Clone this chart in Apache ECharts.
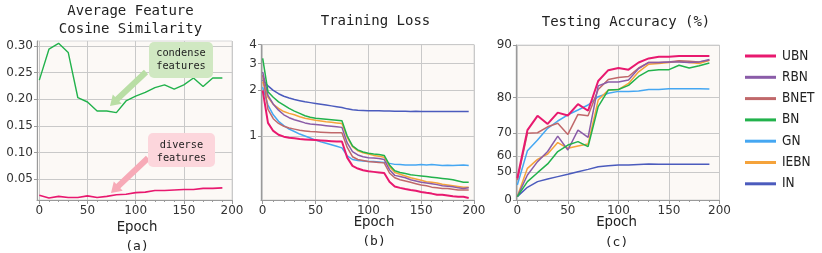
<!DOCTYPE html>
<html><head><meta charset="utf-8">
<script src="https://cdn.jsdelivr.net/npm/echarts@6/dist/echarts.min.js"></script>
<style>html,body{margin:0;padding:0;background:#fff}#c{width:822px;height:253px}</style>
</head><body><div id="c"></div>
<script>
// ---------- data ----------
const epochs10 = [0,10,20,30,40,50,60,70,80,90,100,110,120,130,140,150,160,170,180,190];
const epochs5 = [0,5,10,15,20,25,30,35,40,45,50,55,60,65,70,75,80,85,90,95,100,105,110,115,120,125,130,135,140,145,150,155,160,165,170,175,180,185,190,195];
const seriesNames = ['UBN','RBN','BNET','BN','GN','IEBN','IN'];
const colors = {UBN:'#e8196f',RBN:'#8a5ca8',BNET:'#c0686a',BN:'#22b24c',GN:'#45a7f2',IEBN:'#f5a33b',IN:'#4b5bbd'};

// (a) average feature cosine similarity
const simCondense = [0.236,0.294,0.305,0.288,0.203,0.195,0.178,0.178,0.175,0.197,0.206,0.213,0.222,0.227,0.219,0.227,0.240,0.224,0.240,0.240];
const simDiverse  = [0.020,0.015,0.018,0.016,0.016,0.019,0.016,0.018,0.021,0.022,0.025,0.026,0.029,0.029,0.030,0.031,0.031,0.033,0.033,0.034];

// (b) training loss (epochs5)
const lossUBN  = [2.0,1.22,1.08,1.02,0.99,0.975,0.965,0.955,0.95,0.945,0.94,0.935,0.93,0.925,0.92,0.92,0.72,0.635,0.61,0.595,0.585,0.58,0.575,0.57,0.50,0.465,0.455,0.447,0.44,0.435,0.428,0.422,0.417,0.41,0.41,0.405,0.40,0.398,0.398,0.39];
const lossRBN  = [2.65,1.85,1.62,1.48,1.38,1.32,1.28,1.25,1.22,1.20,1.19,1.18,1.17,1.16,1.15,1.14,0.90,0.79,0.75,0.73,0.72,0.715,0.71,0.70,0.60,0.55,0.54,0.53,0.515,0.505,0.495,0.49,0.485,0.478,0.47,0.467,0.463,0.455,0.45,0.455];
const lossBNET = [2.52,1.5,1.3,1.21,1.16,1.13,1.11,1.09,1.08,1.07,1.065,1.06,1.055,1.05,1.05,1.05,0.84,0.73,0.70,0.69,0.68,0.675,0.67,0.665,0.57,0.53,0.515,0.505,0.495,0.485,0.475,0.47,0.46,0.455,0.45,0.45,0.445,0.44,0.44,0.44];
const lossBN   = [3.25,1.96,1.8,1.68,1.6,1.52,1.46,1.41,1.36,1.33,1.31,1.30,1.29,1.28,1.27,1.26,1.0,0.86,0.81,0.785,0.77,0.76,0.755,0.745,0.645,0.59,0.575,0.565,0.555,0.55,0.545,0.54,0.535,0.53,0.525,0.52,0.515,0.505,0.495,0.495];
const lossGN   = [2.1,1.6,1.38,1.25,1.17,1.11,1.07,1.03,1.0,0.97,0.94,0.915,0.895,0.875,0.855,0.835,0.74,0.70,0.69,0.685,0.68,0.68,0.675,0.67,0.66,0.65,0.648,0.645,0.645,0.645,0.648,0.645,0.648,0.645,0.64,0.642,0.64,0.642,0.643,0.64];
const lossIEBN = [2.28,1.8,1.62,1.52,1.45,1.41,1.38,1.34,1.31,1.29,1.27,1.255,1.24,1.23,1.22,1.21,0.98,0.85,0.80,0.775,0.76,0.745,0.735,0.725,0.63,0.575,0.56,0.545,0.53,0.52,0.51,0.50,0.495,0.49,0.48,0.475,0.47,0.465,0.46,0.46];
const lossIN   = [2.34,2.14,2.0,1.9,1.83,1.78,1.74,1.71,1.68,1.66,1.64,1.62,1.60,1.58,1.56,1.54,1.51,1.49,1.48,1.475,1.47,1.47,1.465,1.46,1.46,1.455,1.455,1.455,1.45,1.455,1.45,1.45,1.452,1.45,1.45,1.45,1.452,1.45,1.45,1.448];

// (c) testing accuracy (epochs10)
const accUBN  = [44.7,70.9,75.3,72.9,76.2,75.4,78.4,76.7,83.6,85.7,86.1,85.8,87.1,87.8,88.1,88.1,88.2,88.2,88.2,88.2];
const accRBN  = [14.3,47.7,57.1,62.4,68.8,63.1,70.9,68.3,82.6,83.4,83.4,83.8,86.0,87.1,87.1,87.2,87.2,87.1,87.2,87.6];
const accBNET = [43.0,69.8,70.0,72.0,73.1,69.4,75.7,75.3,81.8,83.9,84.3,84.5,86.1,87.1,87.1,87.2,87.4,87.3,87.2,87.5];
const accBN   = [14.3,41.3,49.6,55.7,62.4,65.3,66.7,64.6,77.8,81.7,81.8,82.7,84.5,85.6,85.8,85.8,86.6,86.1,86.5,87.0];
const accGN   = [37.3,62.8,67.3,71.5,73.8,75.6,76.9,78.2,80.2,81.0,81.4,81.4,81.5,81.8,81.8,82.0,82.0,82.0,82.0,81.9];
const accIEBN = [15.0,52.8,58.4,61.2,66.3,63.9,64.9,65.7,79.4,81.7,81.8,83.1,85.4,86.8,86.9,87.1,87.3,87.1,86.9,87.5];
const accIN   = [14.3,34.1,41.3,44.0,46.3,48.3,50.4,52.1,53.9,54.6,55.0,55.0,55.4,55.6,55.5,55.5,55.5,55.5,55.5,55.5];

const xTicks = [0,50,100,150,200];
const xMinor = [10,20,30,40,60,70,80,90,110,120,130,140,160,170,180,190];
const simTicks = [0.05,0.10,0.15,0.20,0.25,0.30];
const lossTicks = [1,2,3,4];
const accTicks = [0,50,60,70,80,90];

// ---------- scales ----------
const logT = v => Math.log10(v);
const accT = v => Math.exp(v / 25);
const accInv = t => 25 * Math.log(t);

const FONT = 'DejaVu Sans';
const MONO = 'DejaVu Sans Mono';
const labelStyle = {fontFamily: FONT, fontSize: 12, color: '#333'};

const grids = [
  {left: 37, top: 41, width: 195, height: 159},
  {left: 261, top: 44.7, width: 213, height: 155.3},
  {left: 516, top: 45, width: 203.5, height: 155}
];
const xRanges = [[-2.4, 200], [-1.6, 200], [-1.3, 200]];

const gridOpts = grids.map(g => Object.assign({show: true, backgroundColor: '#fcf9f6', borderColor: '#d8d8d8', borderWidth: 1}, g));

const xAxes = [];
grids.forEach((g, i) => {
  xAxes.push({
    type: 'value', gridIndex: i, min: xRanges[i][0], max: xRanges[i][1], position: 'bottom',
    axisLine: {show: true, onZero: false, lineStyle: {color: '#9a9a9a'}},
    axisTick: {show: true, length: 4, customValues: xTicks, lineStyle: {color: '#9a9a9a'}},
    axisLabel: Object.assign({customValues: xTicks, margin: 5, showMaxLabel: true, showMinLabel: true}, labelStyle),
    splitLine: {show: true, lineStyle: {color: '#c9c9c9', width: 1}}
  });
});
grids.forEach((g, i) => {
  xAxes.push({
    type: 'value', gridIndex: i, min: xRanges[i][0], max: xRanges[i][1], position: 'bottom',
    axisLine: {show: false, onZero: false},
    axisTick: {show: true, length: 2, customValues: xMinor, lineStyle: {color: '#9a9a9a'}},
    axisLabel: {show: false},
    splitLine: {show: false}
  });
});

function yAxis(i, min, max, ticks, fmt) {
  return {
    type: 'value', gridIndex: i, min: min, max: max,
    axisLine: {show: true, onZero: false, lineStyle: {color: '#9a9a9a'}},
    axisTick: {show: true, length: 3, customValues: ticks, lineStyle: {color: '#9a9a9a'}},
    axisLabel: Object.assign({customValues: ticks, margin: 4, formatter: fmt, showMaxLabel: true, showMinLabel: true}, labelStyle),
    splitLine: {show: true, lineStyle: {color: '#c9c9c9', width: 1}}
  };
}
const yAxes = [
  yAxis(0, 0.0112, 0.3094, simTicks, v => v.toFixed(2)),
  yAxis(1, -0.422, logT(4), lossTicks.map(logT), v => String(Math.round(Math.pow(10, v)))),
  yAxis(2, accT(0), accT(90), accTicks.map(accT), v => String(Math.round(accInv(v))))
];

function pairs(xs, ys, f) { return xs.map((x, k) => [x, f ? f(ys[k]) : ys[k]]); }
function lineSeries(name, xi, yi, data, color, w) {
  return {name: name, type: 'line', xAxisIndex: xi, yAxisIndex: yi, data: data, showSymbol: false, symbol: 'none',
    lineStyle: {color: color, width: w}, itemStyle: {color: color}, animation: false, z: 3};
}

const lossData = {UBN: lossUBN, RBN: lossRBN, BNET: lossBNET, BN: lossBN, GN: lossGN, IEBN: lossIEBN, IN: lossIN};
const accData = {UBN: accUBN, RBN: accRBN, BNET: accBNET, BN: accBN, GN: accGN, IEBN: accIEBN, IN: accIN};

const series = [
  lineSeries('condense', 0, 0, pairs(epochs10, simCondense), '#22b24c', 1.4),
  lineSeries('diverse', 0, 0, pairs(epochs10, simDiverse), '#e8196f', 1.6)
];
const drawOrder = ['IN','GN','IEBN','BNET','RBN','BN','UBN'];
drawOrder.forEach(n => {
  series.push(lineSeries(n, 1, 1, pairs(epochs5, lossData[n], logT), colors[n], n === 'UBN' ? 2 : 1.5));
});
drawOrder.forEach(n => {
  series.push(lineSeries(n, 2, 2, pairs(epochs10, accData[n], accT), colors[n], n === 'UBN' ? 2 : 1.5));
});

// ---------- annotations ----------
function arrow(x1, y1, x2, y2, bw, hw, hl, fill) {
  const dx = x2 - x1, dy = y2 - y1, L = Math.hypot(dx, dy);
  const ux = dx / L, uy = dy / L, px = -uy, py = ux;
  const bx = x2 - ux * hl, by = y2 - uy * hl;
  const pts = [
    [x1 + px * bw / 2, y1 + py * bw / 2],
    [bx + px * bw / 2, by + py * bw / 2],
    [bx + px * hw / 2, by + py * hw / 2],
    [x2, y2],
    [bx - px * hw / 2, by - py * hw / 2],
    [bx - px * bw / 2, by - py * bw / 2],
    [x1 - px * bw / 2, y1 - py * bw / 2]
  ];
  return {type: 'polygon', shape: {points: pts}, style: {fill: fill}, z: 10};
}
function txt(x, y, s, font, size, color) {
  return {type: 'text', x: x, y: y, style: {text: s, fontFamily: font, fontSize: size, fill: color || '#222', align: 'center', verticalAlign: 'middle'}, z: 12};
}

const graphic = [
  txt(130.5, 11, 'Average Feature', MONO, 14),
  txt(130.5, 29, 'Cosine Similarity', MONO, 14),
  txt(375.5, 21.5, 'Training Loss', MONO, 14),
  txt(626, 22.5, 'Testing Accuracy (%)', MONO, 14),
  txt(137, 227.5, 'Epoch', FONT, 13.3),
  txt(374, 222.7, 'Epoch', FONT, 13.3),
  txt(616.5, 222.7, 'Epoch', FONT, 13.3),
  txt(137, 247, '(a)', MONO, 13),
  txt(374, 241.7, '(b)', MONO, 13),
  txt(616.5, 242.7, '(c)', MONO, 13),
  arrow(146, 72, 110, 106, 6, 13, 10, '#b9dea5'),
  {type: 'rect', shape: {x: 149, y: 42, width: 64, height: 36, r: 5}, style: {fill: '#d0e8c2'}, z: 11},
  txt(181, 53.3, 'condense', MONO, 10.3),
  txt(181, 66.7, 'features', MONO, 10.3),
  arrow(148, 158, 111, 193, 6, 13, 10, '#f7aab7'),
  {type: 'rect', shape: {x: 148, y: 133, width: 67, height: 34, r: 5}, style: {fill: '#fcd6dc'}, z: 11},
  txt(181.5, 145, 'diverse', MONO, 10.3),
  txt(181.5, 158.3, 'features', MONO, 10.3)
];

const chart = echarts.init(document.getElementById('c'), null, {renderer: 'canvas'});
chart.setOption({
  animation: false,
  backgroundColor: '#ffffff',
  grid: gridOpts,
  xAxis: xAxes,
  yAxis: yAxes,
  legend: {
    data: seriesNames.map(n => ({name: n, icon: 'rect', itemStyle: {color: colors[n]}})),
    orient: 'vertical', left: 740, top: 43, itemWidth: 31, itemHeight: 3, itemGap: 5.3,
    textStyle: {fontFamily: 'Liberation Sans Narrow, DejaVu Sans Condensed, sans-serif', fontSize: 13.5, color: '#222', lineHeight: 16, padding: [0, 0, 0, 1]},
    selectedMode: false
  },
  series: series,
  graphic: graphic
});
</script></body></html>
